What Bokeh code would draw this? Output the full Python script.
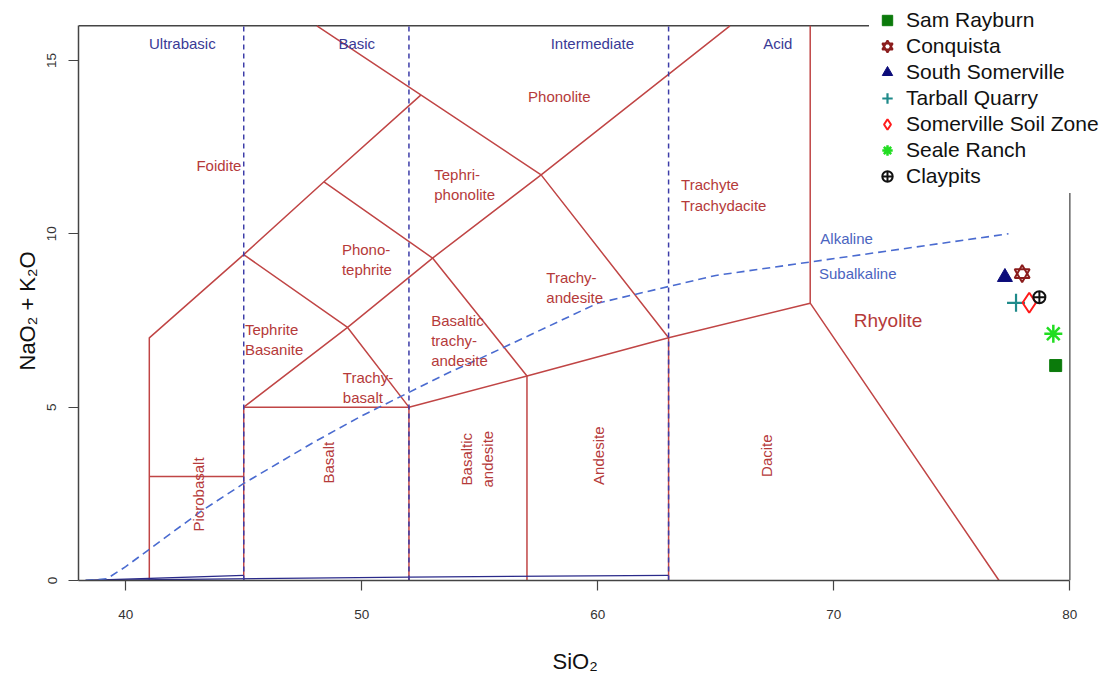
import math
from bokeh.plotting import figure
from bokeh.models import Range1d, Legend, LegendItem, FixedTicker, Title
from bokeh.core.properties import value
from bokeh.embed import file_html
from bokeh.resources import INLINE

FONT = "Liberation Sans"

# ---------------- data ----------------
samples = ["Sam Rayburn", "Conquista", "South Somerville", "Tarball Quarry",
           "Somerville Soil Zone", "Seale Ranch", "Claypits"]
sio2 = [79.4, 77.98, 77.25, 77.72, 78.28, 79.3, 78.71]
alkali = [6.2, 8.85, 8.75, 8.01, 8.01, 7.12, 8.17]

# diagram frame (data limits of the drawn box)
x_min, x_max = 38, 80
y_min, y_max = 0, 16

# TAS field boundaries (SiO2, Na2O+K2O), one polyline per list pair
field_x = [
    [41, 41, 45, 48.4, 52.5],
    [41, 45],
    [45, 45, 52, 52],
    [45, 49.4, 53, 57.6, 65.6],
    [45, 49.4, 52, 57, 63, 69, 77],
    [48.4, 53, 57, 57],
    [48.1, 57.6, 63, 63],
    [69, 69],
]
field_y = [
    [0, 7, 9.4, 11.5, 14],
    [3, 3],
    [0, 5, 5, 0],
    [5, 7.3, 9.3, 11.7, 16],
    [9.4, 7.3, 5, 5.9, 7, 8, 0],
    [11.5, 9.3, 5.9, 0],
    [16, 11.7, 7, 0],
    [8, 16],
]

# silica class boundaries
class_bounds = [45, 52, 63]
class_names = ["Ultrabasic", "Basic", "Intermediate", "Acid"]
class_x = [42.4, 49.79, 59.77, 67.63]
class_y = [15.48, 15.48, 15.48, 15.48]

# thin base lines at the bottom
base_x = [[38.3, 45], [38.3, 52], [52, 63]]
base_y = [[0, 0.15], [0, 0.1], [0.1, 0.15]]

# Irvine & Baragar alkaline / subalkaline divide
ib_x = [38.3, 39.2, 40, 43.2, 45, 48, 50, 53.7, 55, 60, 65, 77.4]
ib_y = [0, 0.05, 0.4, 2, 2.8, 4, 4.75, 6, 6.4, 8, 8.8, 10]

# field labels
left_names = ["Tephri-\nphonolite", "Phono-\ntephrite", "Trachyte\nTrachydacite",
              "Trachy-\nandesite", "Tephrite\nBasanite", "Basaltic\ntrachy-\nandesite",
              "Trachy-\nbasalt"]
left_x = [53.07, 49.16, 63.53, 57.82, 45.05, 52.94, 49.2]
left_y = [11.42, 9.26, 11.12, 8.45, 6.95, 6.92, 5.57]

center_names = ["Foidite", "Phonolite"]
center_x = [43.95, 58.37]
center_y = [11.97, 13.96]

rot_names = ["Picrobasalt", "Basalt", "Basaltic\nandesite", "Andesite", "Dacite"]
rot_x = [43.07, 48.58, 54.89, 60.03, 67.15]
rot_y = [2.48, 3.40, 3.5, 3.6, 3.6]

series_names = ["Alkaline", "Subalkaline"]
series_x = [69.43, 69.37]
series_y = [9.86, 8.86]

x_title = "SiO₂"
y_title = "NaO₂ + K₂O"

# ---------------- figure ----------------
p = figure(width=1109, height=675, output_backend="svg", toolbar_location=None,
           x_range=Range1d(38, 81.68), y_range=Range1d(0, 16.73),
           min_border_left=78, min_border_right=0, min_border_top=0, min_border_bottom=95)
p.background_fill_color = "white"
p.border_fill_color = "white"
p.xgrid.visible = False
p.ygrid.visible = False
p.outline_line_color = None

for ax in (p.xaxis[0], p.yaxis[0]):
    ax.axis_line_color = "#444444"
    ax.axis_line_width = 1.5
    ax.major_tick_line_color = "#444444"
    ax.major_tick_line_width = 1.2
    ax.major_tick_out = 10
    ax.major_tick_in = 0
    ax.minor_tick_line_color = None
    ax.major_label_text_font = FONT
    ax.major_label_text_font_size = "13.5px"
    ax.major_label_text_color = "#333333"

p.xaxis.bounds = (x_min, x_max)
p.yaxis.bounds = (y_min, y_max)
p.xaxis.ticker = FixedTicker(ticks=[40, 50, 60, 70, 80])
p.yaxis.ticker = FixedTicker(ticks=[0, 5, 10, 15])
p.xaxis.major_label_standoff = 19
p.yaxis.major_label_standoff = 12
p.yaxis.major_label_orientation = "vertical"

# axis titles centred on the drawn box rather than the whole frame
p.add_layout(Title(text="\n" + x_title, align="left", offset=474, standoff=0,
                   text_font=FONT, text_font_size="22px", text_font_style="normal",
                   text_color="#111111"), "below")
p.add_layout(Title(text=y_title, align="left", offset=210, standoff=9,
                   text_font=FONT, text_font_size="22px", text_font_style="normal",
                   text_color="#111111"), "left")

RED = "#c04545"
RED_TXT = "#b53a3a"
NAVY_DASH = "#3c3ca8"
BLUE_LINE = "#4a6bd0"

# top and right edges of the diagram box
p.line([x_min, x_max], [y_max, y_max], line_color="#444444", line_width=1.5)
p.line([x_max, x_max], [y_min, y_max], line_color="#666666", line_width=1.5)

# field boundaries
p.multi_line(field_x, field_y, line_color=RED, line_width=1.5)

# thin base lines
p.multi_line(base_x, base_y, line_color="#2a2a8a", line_width=1.3)

# class boundaries (dashed verticals)
p.multi_line([[b, b] for b in class_bounds], [[y_min, y_max] for _ in class_bounds],
             line_color=NAVY_DASH, line_width=1.5, line_dash="5 4")

# alkaline divide
p.line(ib_x, ib_y, line_color=BLUE_LINE, line_width=1.6, line_dash="8 5")

# labels
p.text(class_x, class_y, text=class_names, text_font=value(FONT), text_font_size="15px",
       text_color="#3a3a96", text_align="center", text_baseline="middle")
p.text(series_x, series_y, text=series_names, text_font=value(FONT), text_font_size="15px",
       text_color="#4a64c0", text_align="left", text_baseline="middle")
p.text(left_x, left_y, text=left_names, text_font=value(FONT), text_font_size="15px",
       text_color=RED_TXT, text_align="left", text_baseline="middle", text_line_height=1.2)
p.text(center_x, center_y, text=center_names, text_font=value(FONT), text_font_size="15px",
       text_color=RED_TXT, text_align="center", text_baseline="middle")
p.text(rot_x, rot_y, text=rot_names, angle=math.pi / 2, text_font=value(FONT),
       text_font_size="15px", text_color=RED_TXT, text_align="center",
       text_baseline="middle", text_line_height=1.2)
p.text([72.3], [7.5], text=["Rhyolite"], text_font=value(FONT), text_font_size="19px",
       text_color=RED_TXT, text_align="center", text_baseline="middle")

# samples
def pt(i):
    return dict(x=[sio2[i]], y=[alkali[i]])

r0 = p.scatter(**pt(0), marker="square", size=12, fill_color="#0b7a0b", line_color="#0b7a0b")
r1a = p.scatter(**pt(1), marker="triangle", size=15, fill_color=None, line_color="#8b1c1c", line_width=2)
r1b = p.scatter(**pt(1), marker="inverted_triangle", size=15, fill_color=None, line_color="#8b1c1c", line_width=2)
r2 = p.scatter(**pt(2), marker="triangle", size=15, fill_color="#0c0c7a", line_color="#0c0c7a")
r3 = p.scatter(**pt(3), marker="cross", size=18, line_color="#1f8a8a", line_width=2.2)
r4 = p.scatter(**pt(4), marker="diamond", size=20, fill_color=None, line_color="#ff1a1a", line_width=2)
r5 = p.scatter(**pt(5), marker="asterisk", size=18, line_color="#22dd22", line_width=2.5)
r6 = p.scatter(**pt(6), marker="circle_cross", size=12, fill_color=None, line_color="#111111", line_width=2)

items = [
    LegendItem(label=samples[0], renderers=[r0]),
    LegendItem(label=samples[1], renderers=[r1a, r1b]),
    LegendItem(label=samples[2], renderers=[r2]),
    LegendItem(label=samples[3], renderers=[r3]),
    LegendItem(label=samples[4], renderers=[r4]),
    LegendItem(label=samples[5], renderers=[r5]),
    LegendItem(label=samples[6], renderers=[r6]),
]
legend = Legend(items=items, location=(791, 387), padding=4, spacing=0,
                glyph_width=28, glyph_height=26, label_height=26, label_standoff=5,
                label_text_font=FONT, label_text_font_size="21px", label_text_color="#111111",
                background_fill_color="white", background_fill_alpha=1.0,
                border_line_alpha=0, margin=0)
p.add_layout(legend, "center")

open("out.html", "w").write(file_html(p, INLINE))
